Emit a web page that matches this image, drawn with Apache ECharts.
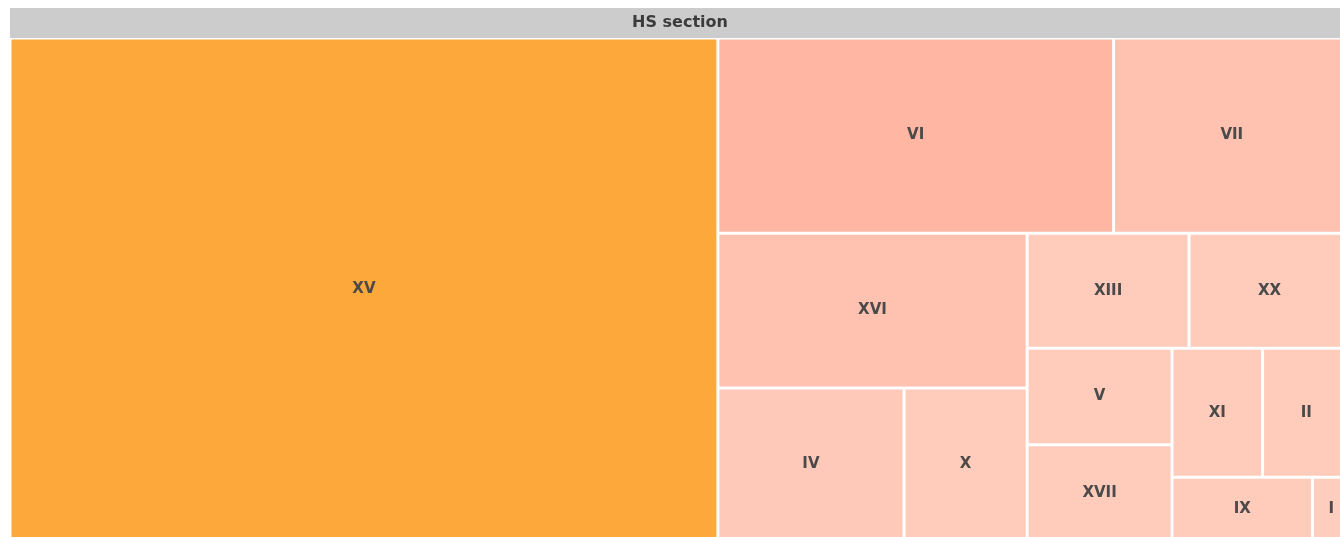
<!DOCTYPE html>
<html>
<head>
<meta charset="utf-8">
<title>HS section</title>
<script src="https://cdn.jsdelivr.net/npm/echarts/dist/echarts.min.js"></script>
<style>
  html, body { margin: 0; padding: 0; background: #fff; }
  #chart { width: 1340px; height: 537px; }
</style>
</head>
<body>
<div id="chart"></div>
<script>
// HS sections and their values (estimated from the tile areas)
var sections = ["XV", "VI", "VII", "XVI", "IV", "X", "XIII", "XX", "V", "XVII", "XI", "II", "IX", "I"];
var values = [3572, 775, 463, 480, 286, 189, 187, 186, 140, 140, 117, 113, 90, 24];

// nesting of the tiles, so the split pattern follows the original picture
var blocks = ["XV", [["VI", "VII"], [["XVI", ["IV", "X"]], [["XIII", "XX"], ["V", "XVII", ["XI", "II", "IX", "I"]]]]]];

// tile colours
var tileColor = {
  XV: "#fda83a",
  VI: "#ffb6a2",
  VII: "#ffc2b0",
  XVI: "#ffc2b0",
  IV: "#ffc9b9",
  X: "#ffcbbb",
  XIII: "#ffcbbb",
  XX: "#ffcbbb",
  V: "#ffccbc",
  XVII: "#ffccbc",
  XI: "#ffccbc",
  II: "#ffccbc",
  IX: "#ffccbc",
  I: "#ffcdbd"
};

function build(item) {
  if (Array.isArray(item)) {
    return { name: "", children: item.map(build), itemStyle: { borderWidth: 0, gapWidth: 0 } };
  }
  var i = sections.indexOf(item);
  return {
    name: item,
    value: values[i],
    itemStyle: { color: tileColor[item], borderColor: "#fff", borderWidth: 1.5 }
  };
}

var myChart = echarts.init(document.getElementById("chart"));
var option = {
  animation: false,
  series: [
    {
      type: "treemap",
      left: 10,
      top: 8,
      width: 1340,
      height: 533,
      roam: false,
      nodeClick: false,
      sort: false,
      breadcrumb: { show: false },
      emphasis: { disabled: true },
      itemStyle: { borderWidth: 0, gapWidth: 0, borderColor: "#fff" },
      label: {
        show: true,
        position: "inside",
        color: "#4a4a4a",
        fontSize: 15,
        fontWeight: "bold",
        fontFamily: "DejaVu Sans"
      },
      data: [
        {
          name: "HS section",
          children: blocks.map(build),
          itemStyle: { borderColor: "#cccccc", borderWidth: 0, gapWidth: 0 },
          upperLabel: {
            show: true,
            height: 30,
            position: "inside",
            color: "#3b3b3b",
            fontWeight: "bold",
            fontSize: 16,
            fontFamily: "DejaVu Sans"
          }
        }
      ]
    }
  ]
};
myChart.setOption(option, true);
</script>
</body>
</html>
